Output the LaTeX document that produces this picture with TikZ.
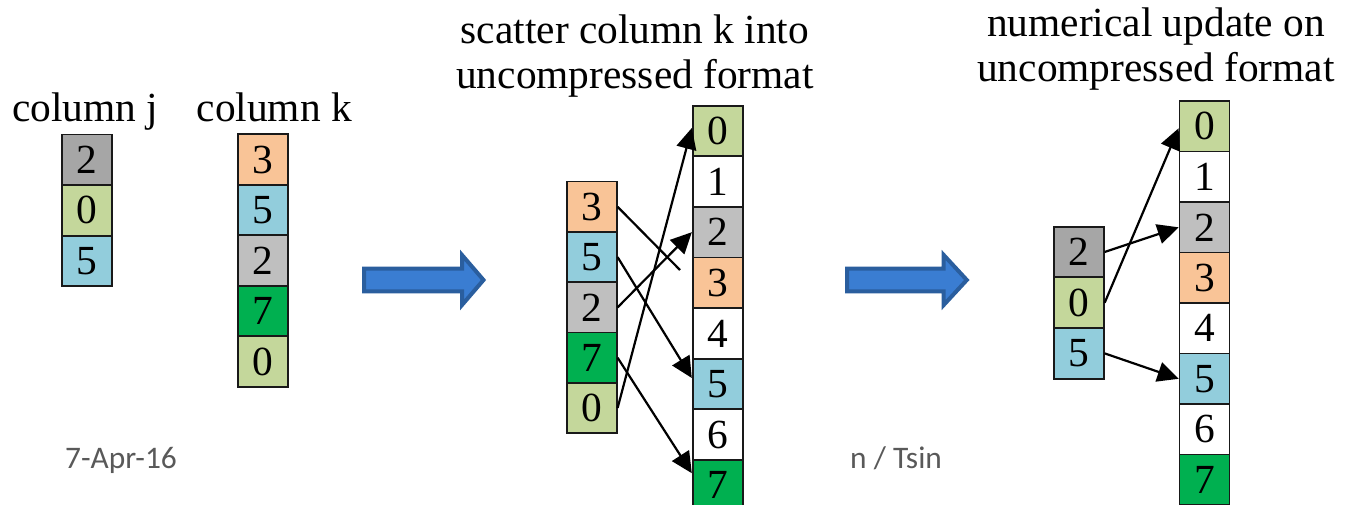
\documentclass[tikz,border=0pt]{standalone}
\usepackage{fontspec}
\setmainfont{Liberation Serif}
\newfontfamily\footfont{Carlito}
\usetikzlibrary{arrows.meta}

\definecolor{cdark}{HTML}{A6A6A6}
\definecolor{clight}{HTML}{BFBFBF}
\definecolor{cpale}{HTML}{C4D79B}
\definecolor{cblue}{HTML}{92CDDC}
\definecolor{corange}{HTML}{F9C497}
\definecolor{cgreen}{HTML}{00B050}
\definecolor{cwhite}{HTML}{FFFFFF}
\definecolor{bafill}{HTML}{3A7DD2}
\definecolor{badraw}{HTML}{2A5E9E}
\definecolor{footgray}{HTML}{595959}

\begin{document}
\begin{tikzpicture}[x=1pt,y=-1pt,
  cell/.style={draw=black!90, line width=1.8pt, minimum width=50pt,
    minimum height=50.5pt, inner sep=0pt,
    font=\fontsize{41.4}{45}\selectfont},
  heading/.style={inner sep=0pt, font=\fontsize{41.4}{45}\selectfont},
  title/.style={heading, align=center, anchor=base},
  footer/.style={inner sep=0pt, anchor=base west, text=footgray,
    font=\footfont\fontsize{31.4}{36}\selectfont},
  arr/.style={line width=2.2pt, -{Triangle[length=21pt,width=20pt]}},
  plain/.style={line width=2.2pt},
  blockarr/.style={draw=badraw, fill=bafill, line width=4pt, line join=miter}
]
\useasboundingbox (0,0) rectangle (1345,505);

% headings (a two-line title sits on the baseline of its last line)
\node[heading, anchor=base west] (hj) at (12,121.7) {column j};
\node[heading, anchor=base west] (hk) at (196.5,121.7) {column k};
\node[title] (tscatter) at (635,88.3) {scatter column k into\\uncompressed format};
\node[title] (tupdate) at (1156,81.7) {numerical update on\\uncompressed format};

% column j
\foreach \v/\c [count=\i from 0] in {2/cdark,0/cpale,5/cblue}
  \node[cell, fill=\c] (j\i) at (86.9,{159.7+50.6*\i}) {\v};

% column k
\foreach \v/\c [count=\i from 0] in {3/corange,5/cblue,2/clight,7/cgreen,0/cpale}
  \node[cell, fill=\c] (k\i) at (263.2,{159.6+50.5*\i}) {\v};

% scatter step: compressed column k
\foreach \v/\c [count=\i from 0] in {3/corange,5/cblue,2/clight,7/cgreen,0/cpale}
  \node[cell, fill=\c] (s\i) at (591.7,{206.8+50.3*\i}) {\v};

% scatter step: uncompressed vector
\foreach \v/\c [count=\i from 0] in {0/cpale,1/cwhite,2/clight,3/corange,4/cwhite,5/cblue,6/cwhite,7/cgreen}
  \node[cell, fill=\c] (u\i) at (717.7,{131+50.6*\i}) {\v};

% update step: column j
\foreach \v/\c [count=\i from 0] in {2/cdark,0/cpale,5/cblue}
  \node[cell, fill=\c] (v\i) at (1078.8,{252+50.7*\i}) {\v};

% update step: uncompressed vector
\foreach \v/\c [count=\i from 0] in {0/cpale,1/cwhite,2/clight,3/corange,4/cwhite,5/cblue,6/cwhite,7/cgreen}
  \node[cell, fill=\c] (w\i) at (1204.5,{126.3+50.5*\i}) {\v};

% scatter connectors
\coordinate (s0end) at (680,270);
\draw[plain] (s0.east) -- (s0end);
\draw[arr] (s1.east) -- ([yshift=6pt]u5.west);
\draw[arr] (s2.east) -- (u2.west);
\draw[arr] (s3.east) -- ([yshift=12pt]u7.west);
\draw[arr] (s4.east) -- ([yshift=3pt]u0.west);

% update connectors
\draw[arr] (v0.east) -- (w2.west);
\draw[arr] (v1.east) -- ([yshift=-2pt]w0.west);
\draw[arr] (v2.east) -- (w5.west);

% block arrows between the steps
\draw[blockarr] (364,268.7) -- (462,268.7) -- (462,255) -- (483.5,280)
  -- (462,305) -- (462,291.3) -- (364,291.3) -- cycle;
\draw[blockarr] (847,268.7) -- (943.7,268.7) -- (943.7,255) -- (966.8,280)
  -- (943.7,305) -- (943.7,291.3) -- (847,291.3) -- cycle;

% footer
\node[footer] (fdate) at (65,468) {7-Apr-16};
\node[footer] (fname) at (850,468) {n / Tsin};
\end{tikzpicture}
\end{document}
